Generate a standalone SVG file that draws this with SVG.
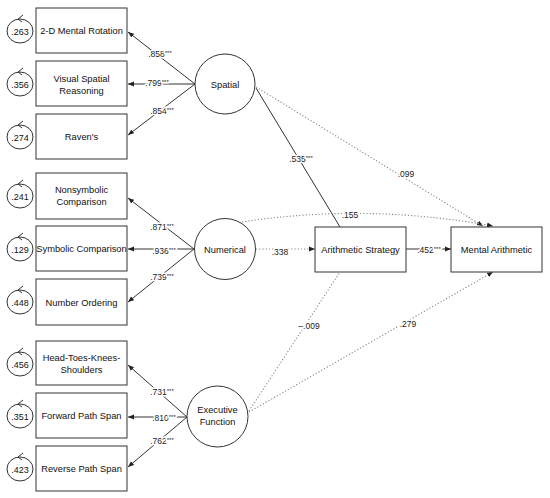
<svg xmlns="http://www.w3.org/2000/svg" width="550" height="498" viewBox="0 0 550 498">
<style>
.box{fill:#fff;stroke:#333;stroke-width:1}
.lat{fill:#fff;stroke:#333;stroke-width:1}
.res{fill:none;stroke:#333;stroke-width:1}
.t{font-family:"Liberation Sans",Arial,sans-serif;font-size:9.3px;fill:#111;text-anchor:middle}
.rt{font-family:"Liberation Sans",Arial,sans-serif;font-size:9px;fill:#111;text-anchor:middle}
.lb{font-family:"Liberation Sans",Arial,sans-serif;font-size:8.5px;fill:#222;text-anchor:middle;paint-order:stroke;stroke:#fff;stroke-width:3px;stroke-linejoin:round}
.sup{font-size:6px}
.solid{fill:none;stroke:#333;stroke-width:1}
.dot{fill:none;stroke:#888;stroke-width:1.1;stroke-dasharray:1.2 2}
</style>
<defs>
<marker id="ah" viewBox="0 0 10 10" refX="10" refY="5" markerWidth="6" markerHeight="6" markerUnits="userSpaceOnUse" orient="auto"><path d="M0,1 L10,5 L0,9 z" fill="#222"/></marker>
<g id="chev"><path d="M4,-4 L-1,0 L3,3" fill="none" stroke="#333" stroke-width="1"/></g>
</defs>
<rect width="550" height="498" fill="#fff"/>

<g id="connectors">
<line class="solid" x1="195" y1="84" x2="128" y2="32" marker-end="url(#ah)"/>
<line class="solid" x1="195" y1="84" x2="128" y2="84" marker-end="url(#ah)"/>
<line class="solid" x1="195" y1="84" x2="128" y2="135" marker-end="url(#ah)"/>
<line class="solid" x1="194" y1="249" x2="128" y2="198" marker-end="url(#ah)"/>
<line class="solid" x1="194" y1="249" x2="128" y2="249" marker-end="url(#ah)"/>
<line class="solid" x1="194" y1="249" x2="128" y2="302" marker-end="url(#ah)"/>
<line class="solid" x1="187" y1="417" x2="128" y2="365" marker-end="url(#ah)"/>
<line class="solid" x1="187" y1="417" x2="128" y2="417" marker-end="url(#ah)"/>
<line class="solid" x1="187" y1="417" x2="128" y2="467" marker-end="url(#ah)"/>
<line class="solid" x1="256" y1="88" x2="340" y2="227"/>
<line class="dot" x1="256" y1="87" x2="483" y2="226" marker-end="url(#ah)"/>
<path class="dot" d="M242,222 Q365,203 493,226" marker-end="url(#ah)"/>
<line class="dot" x1="256" y1="249" x2="315" y2="249" marker-end="url(#ah)"/>
<line class="solid" x1="406" y1="249" x2="451" y2="249" marker-end="url(#ah)"/>
<line class="dot" x1="249" y1="411" x2="340" y2="272"/>
<line class="dot" x1="249" y1="412" x2="493" y2="272" marker-end="url(#ah)"/>
<text class="lb" x="160" y="57">.858<tspan class="sup" dy="-2">***</tspan></text>
<text class="lb" x="157" y="86">.799<tspan class="sup" dy="-2">***</tspan></text>
<text class="lb" x="162" y="114">.854<tspan class="sup" dy="-2">***</tspan></text>
<text class="lb" x="162" y="230">.871<tspan class="sup" dy="-2">***</tspan></text>
<text class="lb" x="164" y="254">.936<tspan class="sup" dy="-2">***</tspan></text>
<text class="lb" x="162" y="280">.739<tspan class="sup" dy="-2">***</tspan></text>
<text class="lb" x="162" y="395">.731<tspan class="sup" dy="-2">***</tspan></text>
<text class="lb" x="164" y="421">.810<tspan class="sup" dy="-2">***</tspan></text>
<text class="lb" x="162" y="444">.762<tspan class="sup" dy="-2">***</tspan></text>
<text class="lb" x="301" y="162">.535<tspan class="sup" dy="-2">***</tspan></text>
<text class="lb" x="406" y="177">.099</text>
<text class="lb" x="350" y="218">.155</text>
<text class="lb" x="280" y="255">.338</text>
<text class="lb" x="429" y="253">.452<tspan class="sup" dy="-2">***</tspan></text>
<text class="lb" x="309" y="329">–.009</text>
<text class="lb" x="408" y="327">.279</text>
</g>

<g id="n-mrot"><rect class="box" x="36" y="8" width="91" height="45"/><text class="t" x="81.5" y="34">2-D Mental Rotation</text></g>
<g id="n-vsr"><rect class="box" x="36" y="61" width="91" height="45"/><text class="t" x="81.5" y="81.5">Visual Spatial</text><text class="t" x="81.5" y="93.5">Reasoning</text></g>
<g id="n-rav"><rect class="box" x="36" y="114" width="91" height="45"/><text class="t" x="81.5" y="140">Raven's</text></g>
<g id="n-nsc"><rect class="box" x="36" y="173" width="91" height="46"/><text class="t" x="81.5" y="193">Nonsymbolic</text><text class="t" x="81.5" y="205">Comparison</text></g>
<g id="n-sc"><rect class="box" x="36" y="226" width="91" height="45"/><text class="t" x="81.5" y="252">Symbolic Comparison</text></g>
<g id="n-no"><rect class="box" x="36" y="279" width="91" height="46"/><text class="t" x="81.5" y="305.5">Number Ordering</text></g>
<g id="n-htks"><rect class="box" x="36" y="341" width="91" height="44"/><text class="t" x="81.5" y="361">Head-Toes-Knees-</text><text class="t" x="81.5" y="373">Shoulders</text></g>
<g id="n-fps"><rect class="box" x="36" y="393" width="91" height="45"/><text class="t" x="81.5" y="419">Forward Path Span</text></g>
<g id="n-rps"><rect class="box" x="36" y="446" width="91" height="45"/><text class="t" x="81.5" y="472">Reverse Path Span</text></g>

<g id="r-mrot"><ellipse class="res" cx="20" cy="31" rx="13" ry="12"/><use href="#chev" x="19" y="19"/><text class="rt" x="20" y="34.5">.263</text></g>
<g id="r-vsr"><ellipse class="res" cx="20" cy="84" rx="13" ry="12"/><use href="#chev" x="19" y="72"/><text class="rt" x="20" y="87.5">.356</text></g>
<g id="r-rav"><ellipse class="res" cx="20" cy="137" rx="13" ry="12"/><use href="#chev" x="19" y="125"/><text class="rt" x="20" y="140.5">.274</text></g>
<g id="r-nsc"><ellipse class="res" cx="20" cy="196" rx="13" ry="12"/><use href="#chev" x="19" y="184"/><text class="rt" x="20" y="199.5">.241</text></g>
<g id="r-sc"><ellipse class="res" cx="20" cy="249" rx="13" ry="12"/><use href="#chev" x="19" y="237"/><text class="rt" x="20" y="252.5">.129</text></g>
<g id="r-no"><ellipse class="res" cx="20" cy="302" rx="13" ry="12"/><use href="#chev" x="19" y="290"/><text class="rt" x="20" y="305.5">.448</text></g>
<g id="r-htks"><ellipse class="res" cx="20" cy="364" rx="13" ry="12"/><use href="#chev" x="19" y="352"/><text class="rt" x="20" y="367.5">.456</text></g>
<g id="r-fps"><ellipse class="res" cx="20" cy="416" rx="13" ry="12"/><use href="#chev" x="19" y="404"/><text class="rt" x="20" y="419.5">.351</text></g>
<g id="r-rps"><ellipse class="res" cx="20" cy="469" rx="13" ry="12"/><use href="#chev" x="19" y="457"/><text class="rt" x="20" y="472.5">.423</text></g>

<g id="n-spatial"><circle class="lat" cx="225" cy="84" r="30"/><text class="t" x="225" y="87.5">Spatial</text></g>
<g id="n-numerical"><circle class="lat" cx="225" cy="249" r="30.5"/><text class="t" x="225" y="252.5">Numerical</text></g>
<g id="n-exec"><circle class="lat" cx="217.5" cy="416.5" r="30.5"/><text class="t" x="217.5" y="413">Executive</text><text class="t" x="217.5" y="425">Function</text></g>
<g id="n-as"><rect class="box" x="315" y="227" width="91" height="45"/><text class="t" x="360.5" y="252.5">Arithmetic Strategy</text></g>
<g id="n-ma"><rect class="box" x="451" y="227" width="91" height="45"/><text class="t" x="496.5" y="252.5">Mental Arithmetic</text></g>
</svg>
